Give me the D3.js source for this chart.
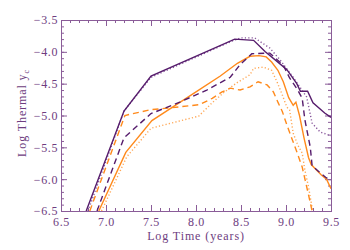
<!DOCTYPE html>
<html>
<head>
<meta charset="utf-8">
<script src="https://cdn.jsdelivr.net/npm/d3@7"></script>
<style>
  body { margin: 0; background: #fff; }
  svg { display: block; }
</style>
</head>
<body>
<svg id="chart" width="350" height="250"></svg>
<script>
// log time (years) / log thermal y_c
const purpleSolid = [[6.78,-6.5],[7.2,-4.93],[7.5,-4.38],[8.43,-3.8],[8.64,-3.82],[8.77,-4.0],[8.9,-4.15],[9.01,-4.28],[9.12,-4.5],[9.16,-4.62],[9.24,-4.62],[9.3,-4.8],[9.43,-4.96],[9.5,-5.03]];
const purpleDashed = [[6.9,-6.5],[7.2,-5.35],[7.5,-4.97],[7.82,-4.79],[8.12,-4.6],[8.38,-4.4],[8.49,-4.2],[8.62,-4.03],[8.82,-4.02],[8.97,-4.21],[9.04,-4.41],[9.13,-4.6],[9.18,-4.73],[9.21,-5.07],[9.27,-5.5],[9.29,-5.79],[9.38,-5.9],[9.44,-5.97],[9.5,-6.02]];
const purpleDotted = [[6.8,-6.5],[7.2,-4.93],[7.5,-4.4],[8.4,-3.83],[8.5,-3.78],[8.65,-3.78],[8.82,-3.94],[8.93,-4.12],[9.08,-4.4],[9.23,-4.71],[9.29,-5.12],[9.38,-5.26],[9.5,-5.32]];
const orangeSolid = [[6.92,-6.5],[7.22,-5.58],[7.51,-5.08],[8.0,-4.63],[8.27,-4.38],[8.46,-4.18],[8.6,-4.07],[8.7,-4.06],[8.78,-4.08],[8.84,-4.16],[8.91,-4.29],[8.97,-4.47],[9.03,-4.72],[9.08,-4.84],[9.11,-4.79],[9.15,-5.0],[9.2,-5.35],[9.25,-5.66],[9.28,-5.77],[9.39,-5.93],[9.45,-6.0],[9.5,-6.15]];
const orangeDashed = [[6.82,-6.5],[7.21,-5.0],[7.49,-4.91],[7.71,-4.88],[8.04,-4.83],[8.18,-4.73],[8.29,-4.63],[8.38,-4.57],[8.49,-4.6],[8.6,-4.55],[8.69,-4.47],[8.79,-4.52],[8.86,-4.63],[8.91,-4.79],[8.96,-4.94],[9.01,-5.15],[9.07,-5.38],[9.12,-5.57],[9.18,-5.81],[9.23,-6.12],[9.27,-6.37],[9.29,-6.5]];
const orangeDotted = [[6.95,-6.5],[7.23,-5.65],[7.5,-5.2],[8.03,-5.01],[8.18,-4.8],[8.3,-4.65],[8.45,-4.49],[8.6,-4.36],[8.64,-4.26],[8.75,-4.24],[8.84,-4.29],[8.9,-4.47],[8.96,-4.68],[9.01,-4.87],[9.04,-4.91],[9.08,-5.28],[9.13,-5.46],[9.18,-5.59],[9.21,-5.86],[9.25,-6.12],[9.29,-6.45],[9.3,-6.5]];

const xTicks = [6.5, 7.0, 7.5, 8.0, 8.5, 9.0, 9.5];
const yTicks = [-3.5, -4.0, -4.5, -5.0, -5.5, -6.0, -6.5];

const purple = '#561c6c';
const purpleLight = '#7a4490';
const orange = '#ff8a1c';
const axisColor = '#8a5c98';
const textColor = '#6e3d80';
const font = '"Liberation Serif", "DejaVu Serif", serif';

const svg = d3.select('#chart');
const margin = {left: 61, right: 19, top: 20, bottom: 39};
const w = 350 - margin.left - margin.right;
const h = 250 - margin.top - margin.bottom;

const x = d3.scaleLinear().domain([6.5, 9.5]).range([margin.left, margin.left + w]);
const y = d3.scaleLinear().domain([-6.5, -3.5]).range([margin.top + h, margin.top]);

svg.append('defs').append('clipPath').attr('id', 'clip')
  .append('rect')
  .attr('x', margin.left).attr('y', margin.top)
  .attr('width', w).attr('height', h);

const fmt = d => d3.format('.1f')(d).replace('-', '\u2212');
const minorX = d3.range(6.5, 9.5001, 0.1);
const minorY = d3.range(-6.5, -3.4999, 0.1);

function styleAxis(g) {
  g.select('.domain').attr('stroke', axisColor);
  g.selectAll('.tick line').attr('stroke', axisColor);
  g.selectAll('.tick text')
    .attr('fill', textColor)
    .style('font-family', font)
    .style('font-size', '12px')
    .style('letter-spacing', '0.6px');
}

// minor ticks first, majors on top
svg.append('g').attr('transform', `translate(0,${margin.top + h})`)
  .call(d3.axisBottom(x).tickValues(minorX).tickSize(-3).tickFormat(''))
  .call(styleAxis);
svg.append('g').attr('transform', `translate(0,${margin.top})`)
  .call(d3.axisTop(x).tickValues(minorX).tickSize(-3).tickFormat(''))
  .call(styleAxis);
svg.append('g').attr('transform', `translate(${margin.left},0)`)
  .call(d3.axisLeft(y).tickValues(minorY).tickSize(-3).tickFormat(''))
  .call(styleAxis);
svg.append('g').attr('transform', `translate(${margin.left + w},0)`)
  .call(d3.axisRight(y).tickValues(minorY).tickSize(-3).tickFormat(''))
  .call(styleAxis);

svg.append('g').attr('transform', `translate(0,${margin.top + h})`)
  .call(d3.axisBottom(x).tickValues(xTicks).tickSize(-6).tickPadding(6).tickFormat(fmt))
  .call(styleAxis);
svg.append('g').attr('transform', `translate(0,${margin.top})`)
  .call(d3.axisTop(x).tickValues(xTicks).tickSize(-6).tickFormat(''))
  .call(styleAxis);
svg.append('g').attr('transform', `translate(${margin.left},0)`)
  .call(d3.axisLeft(y).tickValues(yTicks).tickSize(-6).tickPadding(3).tickFormat(fmt))
  .call(styleAxis);
svg.append('g').attr('transform', `translate(${margin.left + w},0)`)
  .call(d3.axisRight(y).tickValues(yTicks).tickSize(-6).tickFormat(''))
  .call(styleAxis);

const line = d3.line().x(d => x(d[0])).y(d => y(d[1]));

const series = [
  {data: orangeDotted, color: orange, dash: '1.2,2.2', op: 0.75},
  {data: orangeDashed, color: orange, dash: '6,4', op: 1},
  {data: orangeSolid, color: orange, dash: null, op: 1},
  {data: purpleDotted, color: purpleLight, dash: '1.2,2.2', op: 0.9},
  {data: purpleDashed, color: purple, dash: '6,4', op: 1},
  {data: purpleSolid, color: purple, dash: null, op: 1}
];

svg.append('g').attr('clip-path', 'url(#clip)')
  .selectAll('path')
  .data(series)
  .enter()
  .append('path')
  .attr('d', d => line(d.data))
  .attr('fill', 'none')
  .attr('stroke', d => d.color)
  .attr('stroke-opacity', d => d.op)
  .attr('stroke-width', 1.4)
  .attr('stroke-dasharray', d => d.dash)
;

svg.append('text')
  .attr('x', x(8.0))
  .attr('y', 240)
  .attr('text-anchor', 'middle')
  .attr('fill', textColor)
  .style('font-family', font)
  .style('font-size', '12px')
  .style('letter-spacing', '0.9px')
  .text('Log Time (years)');

const yl = svg.append('text')
  .attr('transform', `translate(26,113) rotate(-90)`)
  .attr('text-anchor', 'middle')
  .attr('fill', textColor)
  .style('font-family', font)
  .style('font-size', '12px')
  .style('letter-spacing', '0.9px');
yl.append('tspan').text('Log Thermal y');
yl.append('tspan').attr('dy', 3).style('font-size', '8px').text('c');
</script>
</body>
</html>
